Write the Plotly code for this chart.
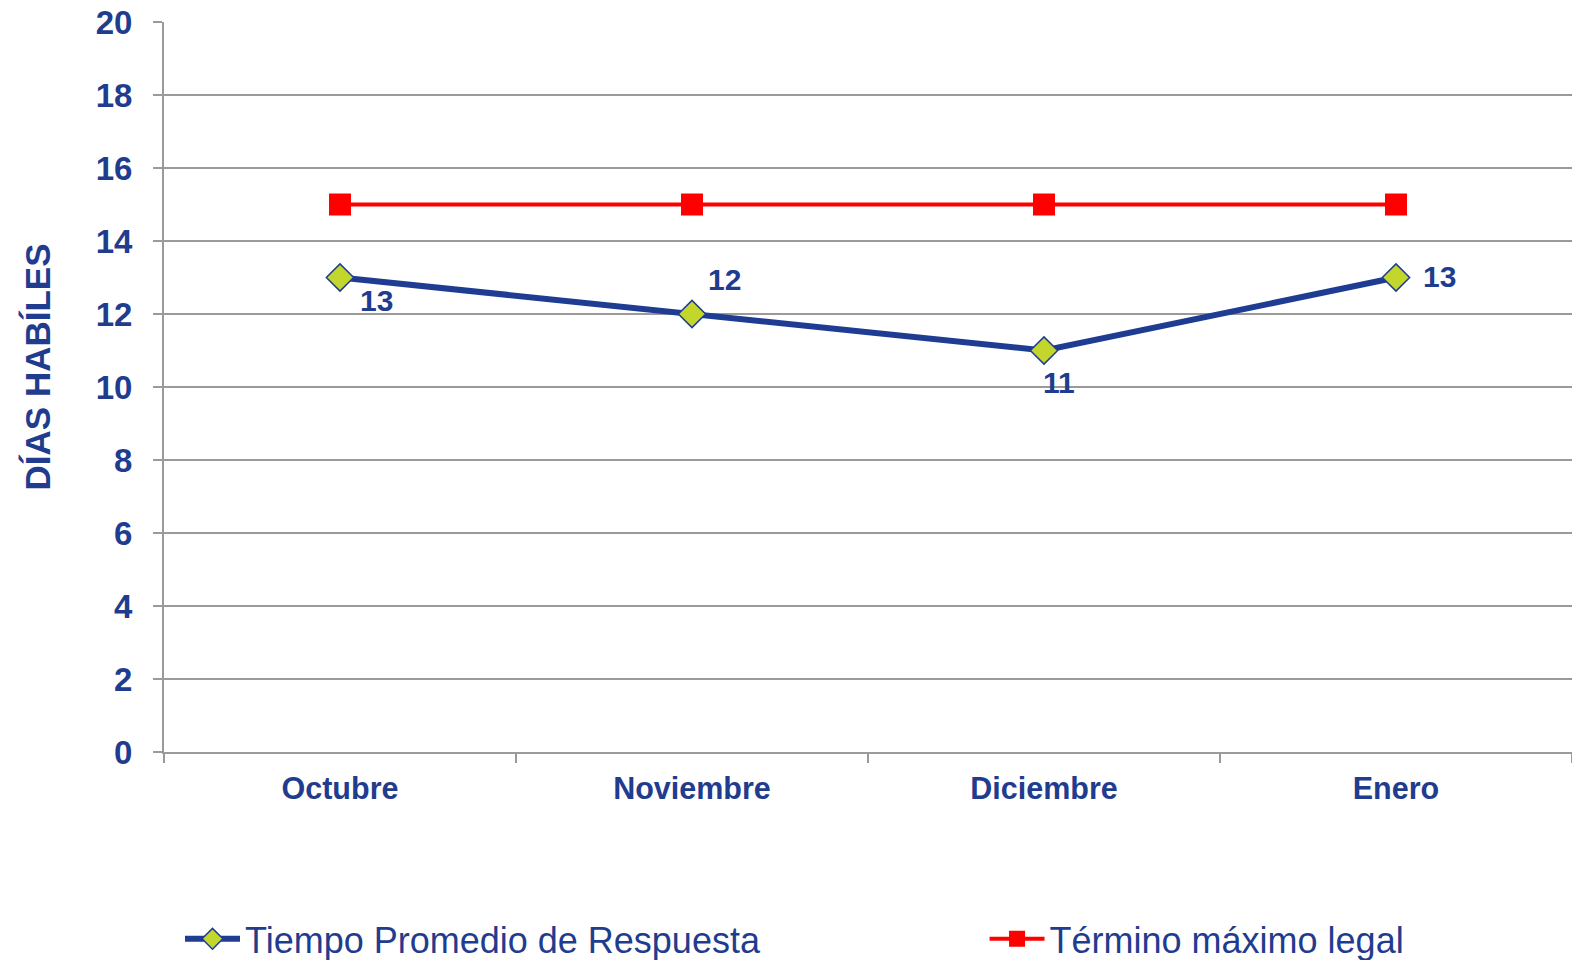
import plotly.graph_objects as go

months = ["Octubre", "Noviembre", "Diciembre", "Enero"]
tiempo_promedio = [13, 12, 11, 13]
termino_maximo = [15, 15, 15, 15]
label_shift_x = [36, 32, 15, 43]
label_shift_y = [-23, 35, -32, 1]
y_ticks = list(range(0, 21, 2))

BLUE = "#1F3C8F"
GRID = "#9A9A9A"

fig = go.Figure()

fig.add_trace(go.Scatter(
    x=months, y=tiempo_promedio, name="Tiempo Promedio de Respuesta",
    mode="lines+markers",
    line=dict(color="#1F3C93", width=6),
    marker=dict(symbol="diamond", size=21, color="#C3D62B", line=dict(color="#1F3C93", width=1.5)),
    legend="legend", cliponaxis=False,
))

fig.add_trace(go.Scatter(
    x=months, y=termino_maximo, name="Término máximo legal",
    mode="lines+markers",
    line=dict(color="#FF0000", width=4),
    marker=dict(symbol="square", size=22, color="#FF0000"),
    legend="legend2", cliponaxis=False,
))

for m, v, dx, dy in zip(months, tiempo_promedio, label_shift_x, label_shift_y):
    fig.add_annotation(
        x=m, y=v, text=str(v), showarrow=False, xshift=dx, yshift=dy,
        font=dict(family="Liberation Sans", size=30, color=BLUE, weight="bold"),
    )

fig.add_annotation(
    text="DÍAS HABÍLES", xref="paper", yref="paper", x=-0.0901, y=0.527,
    xanchor="center", yanchor="middle", textangle=-90, showarrow=False,
    font=dict(family="Liberation Sans", size=35, color=BLUE, weight="bold"),
)

fig.update_layout(
    width=1572, height=960,
    margin=dict(l=164, r=0, t=22, b=208, autoexpand=False),
    paper_bgcolor="white", plot_bgcolor="white",
    font=dict(family="Liberation Sans", color=BLUE),
    showlegend=True,
    legend=dict(xref="container", yref="container", x=0.1145, y=0.022,
                xanchor="left", yanchor="middle",
                itemwidth=55, font=dict(size=36, color=BLUE), bgcolor="rgba(0,0,0,0)"),
    legend2=dict(xref="container", yref="container", x=0.6263, y=0.022,
                 xanchor="left", yanchor="middle",
                 itemwidth=55, font=dict(size=36, color=BLUE), bgcolor="rgba(0,0,0,0)"),
)

fig.update_xaxes(
    type="category", range=[-0.5, 3.5],
    showgrid=False, showline=True, linecolor=GRID, linewidth=2,
    ticks="outside", tickson="boundaries", ticklen=9, tickwidth=2, tickcolor=GRID,
    tickfont=dict(family="Liberation Sans", size=30.5, color=BLUE, weight="bold"),
    ticklabelstandoff=8,
)

fig.update_yaxes(
    range=[0, 20], tickvals=y_ticks,
    showgrid=True, gridcolor=GRID, gridwidth=1.5,
    showline=True, linecolor=GRID, linewidth=2,
    ticks="outside", ticklen=9, tickwidth=2, tickcolor=GRID,
    tickfont=dict(family="Liberation Sans", size=33, color=BLUE, weight="bold"),
    ticklabelstandoff=14,
    zeroline=False,
)

fig.write_html(
    "out.html",
    config={"displayModeBar": False},
    post_script="document.body.style.margin='0';document.body.style.overflow='hidden';",
)
